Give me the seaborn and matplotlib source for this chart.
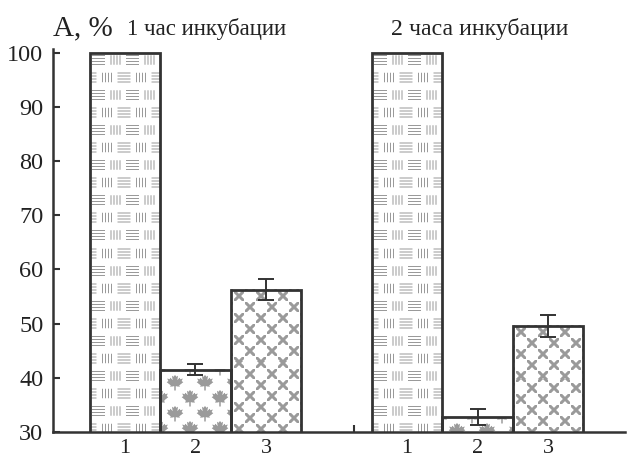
import numpy as np
import pandas as pd
import matplotlib
matplotlib.use("Agg")
import matplotlib.pyplot as plt
import seaborn as sns
from matplotlib.path import Path
from matplotlib.patches import Rectangle
from matplotlib.colors import to_rgb

# Activity (%) of samples 1-3 after 1 h and 2 h of incubation
group_titles = ["1 час инкубации", "2 часа инкубации"]
sample_labels = ["1", "2", "3"]
activity_1h = [100.0, 41.5, 56.3]
error_1h = [0.0, 1.0, 2.0]
activity_2h = [100.0, 32.7, 49.6]
error_2h = [0.0, 1.5, 2.0]
y_ticks = [30, 40, 50, 60, 70, 80, 90, 100]

sns.set_style("ticks")
plt.rcParams["font.family"] = ["Liberation Serif", "DejaVu Serif"]

DARK = "#333333"
TEXT = "#222222"
GRAY = "#9a9a9a"

rows = []
for g, (vals, errs) in enumerate([(activity_1h, error_1h), (activity_2h, error_2h)]):
    for i, (v, e) in enumerate(zip(vals, errs)):
        rows.append({"pos": g * 4 + i, "value": v, "err": e, "sample": sample_labels[i]})
df = pd.DataFrame(rows)

W, H = 631, 461
fig = plt.figure(figsize=(W / 100, H / 100), dpi=100)
ax = fig.add_axes([53 / W, 1 - 432 / H, (625 - 53) / W, (432 - 49) / H])

sns.barplot(data=df, x="pos", y="value", native_scale=True, width=1.0,
            color="white", saturation=1, edgecolor="none", linewidth=0,
            errorbar=None, ax=ax, zorder=1)

XLIM = (-1.021, 7.092)
YLIM = (30, 100.7)
ax.set_xlim(*XLIM)
ax.set_ylim(*YLIM)

# --- fill textures (rasterised per bar, in screen pixels) ------------------
leaf_pts = [(0, 1.0), (0.15, 0.7), (0.32, 0.82), (0.25, 0.35), (0.5, 0.62),
            (0.56, 0.45), (0.82, 0.52), (0.7, 0.25), (0.88, 0.15), (0.45, -0.2),
            (0.52, -0.35), (0.08, -0.28), (0.08, -0.8), (-0.08, -0.8),
            (-0.08, -0.28), (-0.52, -0.35), (-0.45, -0.2), (-0.88, 0.15),
            (-0.7, 0.25), (-0.82, 0.52), (-0.56, 0.45), (-0.5, 0.62),
            (-0.25, 0.35), (-0.32, 0.82), (-0.15, 0.7), (0, 1.0)]
LEAF = Path(leaf_pts, [Path.MOVETO] + [Path.LINETO] * (len(leaf_pts) - 2) + [Path.CLOSEPOLY])


def texture(kind, pw, ph, S=4):
    xs = (np.arange(pw * S) + 0.5) / S
    ys = (np.arange(ph * S) + 0.5) / S
    X, Y = np.meshgrid(xs, ys)
    if kind == 0:  # basket weave of short line groups
        r = np.floor((Y - 8 + 8.75) / 17.5)
        cy = 8 + 17.5 * r
        off = (r % 2) * 8.5
        k = np.floor((X - off) / 17)
        cx = off + 17 * k + 8.5
        dx, dy = X - cx, Y - cy
        horiz = ((k + r % 2) % 2) == 0
        jh = np.clip(np.round((dy + 4.5) / 3), 0, 3)
        mh = (np.abs(dy + 4.5 - 3 * jh) < 0.55) & (np.abs(dx) <= 6.5)
        jv = np.clip(np.round((dx + 4.5) / 3), 0, 3)
        mv = (np.abs(dx + 4.5 - 3 * jv) < 0.55) & (np.abs(dy) <= 4.8)
        mask = np.where(horiz, mh, mv)
    elif kind == 1:  # staggered maple leaves
        r = np.round((Y - 14) / 15)
        cy = 14 + 15 * r
        off = np.where(r % 2 == 0, 15, 0)
        k = np.round((X - off) / 30)
        cx = off + 30 * k
        u = (X - cx) / 9.5
        v = -(Y - cy - 0.5) / 9.5
        mask = LEAF.contains_points(np.column_stack([u.ravel(), v.ravel()])).reshape(X.shape)
    else:  # staggered crosses
        r = np.round((Y - 7) / 11)
        cy = 7 + 11 * r
        off = np.where(r % 2 == 1, 11, 0)
        k = np.round((X - 8 - off) / 22)
        cx = 8 + off + 22 * k
        dx, dy = X - cx, Y - cy
        inside = (np.abs(dx) <= 5.1) & (np.abs(dy) <= 5.1)
        mask = inside & ((np.abs(dx - dy) <= 2.1) | (np.abs(dx + dy) <= 2.1))
    alpha = mask.astype(float).reshape(ph, S, pw, S).mean(axis=(1, 3))
    img = np.zeros((ph, pw, 4))
    img[..., :3] = to_rgb(GRAY)
    img[..., 3] = alpha
    return img


bars = sorted(ax.patches, key=lambda p: p.get_x())
for idx, bar in enumerate(bars):
    kind = idx % 3
    bx, bw, bh = bar.get_x(), bar.get_width(), bar.get_height()
    (x0, ytop), (x1, ybot) = ax.transData.transform([(bx, bh), (bx + bw, YLIM[0])])
    pw, ph = int(round(x1 - x0)), int(round(ytop - ybot))
    ax.imshow(texture(kind, pw, ph), extent=(bx, bx + bw, YLIM[0], bh),
              origin="upper", interpolation="nearest", aspect="auto", zorder=2)
    ax.add_patch(Rectangle((bx, YLIM[0] - 5), bw, bh - YLIM[0] + 5, fill=False,
                           edgecolor=DARK, linewidth=2, zorder=3))

ax.set_xlim(*XLIM)
ax.set_ylim(*YLIM)

# --- error bars ----------------------------------------------------------
eb = df[df["err"] > 0]
ax.errorbar(eb["pos"], eb["value"], yerr=eb["err"], fmt="none", ecolor=DARK,
            elinewidth=1.4, capsize=5.5, capthick=1.4, zorder=5)

# --- axes styling --------------------------------------------------------
sns.despine(ax=ax)
for s in ("left", "bottom"):
    ax.spines[s].set_color(DARK)
    ax.spines[s].set_linewidth(1.8)
    ax.spines[s].set_zorder(6)

ax.set_yticks(y_ticks)
ax.set_yticklabels([str(t) for t in y_ticks])
ax.tick_params(axis="y", direction="in", length=5, width=1.5, color=DARK,
               labelsize=17.5, pad=7, labelcolor=TEXT)
ax.set_xticks(df["pos"])
ax.set_xticklabels(df["sample"])
ax.tick_params(axis="x", length=0, labelsize=16, pad=5, labelcolor=TEXT)
ax.set_xticks([3.25], minor=True)
ax.tick_params(axis="x", which="minor", direction="in", length=5, width=1.5, color=DARK)
ax.set_xlabel("")
ax.set_ylabel("")

fig.text(53 / W, 1 - 35 / H, "A, %", fontsize=21, va="baseline", color=TEXT)
fig.text(127 / W, 1 - 35 / H, group_titles[0], fontsize=16.5, va="baseline", color=TEXT)
fig.text(479.5 / W, 1 - 35 / H, group_titles[1], fontsize=17.2, va="baseline",
         ha="center", color=TEXT)

fig.savefig("out.png", dpi=100)
